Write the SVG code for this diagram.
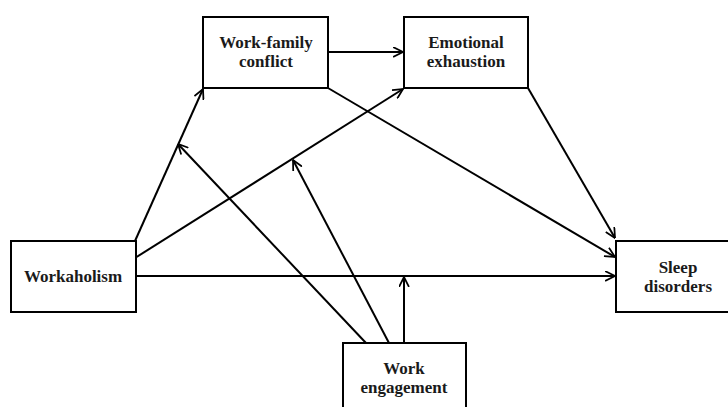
<svg xmlns="http://www.w3.org/2000/svg" width="728" height="407" viewBox="0 0 728 407">
<style>
.box{fill:#fff;stroke:#000;stroke-width:2}
.lbl{font-family:"Liberation Serif","Times New Roman",serif;font-weight:bold;font-size:17px;fill:#1a1a1a;text-anchor:middle}
.edge{fill:none;stroke:#000;stroke-width:2;marker-end:url(#arr)}
</style>
<defs>
<marker id="arr" viewBox="0 0 10 10" refX="9.5" refY="5" markerWidth="5.5" markerHeight="5.5" markerUnits="strokeWidth" orient="auto">
<path d="M0.5,0.5 L9.5,5 L0.5,9.5" fill="none" stroke="#000" stroke-width="1.6"/>
</marker>
</defs>
<rect width="728" height="407" fill="#fff"/>
<g id="connectors">
<line class="edge" x1="328" y1="52" x2="403" y2="52"/>
<line class="edge" x1="135" y1="241" x2="203" y2="89"/>
<line class="edge" x1="135" y1="258" x2="403" y2="89"/>
<line class="edge" x1="136" y1="276" x2="615" y2="276"/>
<line class="edge" x1="328" y1="88" x2="615" y2="257"/>
<line class="edge" x1="528" y1="88" x2="615" y2="238"/>
<line class="edge" x1="366" y1="343" x2="178" y2="144"/>
<line class="edge" x1="389" y1="343" x2="293" y2="160"/>
<line class="edge" x1="404" y1="343" x2="404" y2="277"/>
</g>
<g id="work-family-conflict">
<rect class="box" x="203" y="17" width="125" height="71"/>
<text class="lbl" x="266" y="48">Work-family</text>
<text class="lbl" x="266" y="67">conflict</text>
</g>
<g id="emotional-exhaustion">
<rect class="box" x="404" y="17" width="124" height="71"/>
<text class="lbl" x="466" y="48">Emotional</text>
<text class="lbl" x="466" y="67">exhaustion</text>
</g>
<g id="workaholism">
<rect class="box" x="11" y="241" width="125" height="71"/>
<text class="lbl" x="73" y="282">Workaholism</text>
</g>
<g id="sleep-disorders">
<rect class="box" x="616" y="241" width="124" height="71"/>
<text class="lbl" x="678" y="273">Sleep</text>
<text class="lbl" x="678" y="292">disorders</text>
</g>
<g id="work-engagement">
<rect class="box" x="343" y="343" width="123" height="70"/>
<text class="lbl" x="404" y="374">Work</text>
<text class="lbl" x="404" y="393">engagement</text>
</g>
</svg>
